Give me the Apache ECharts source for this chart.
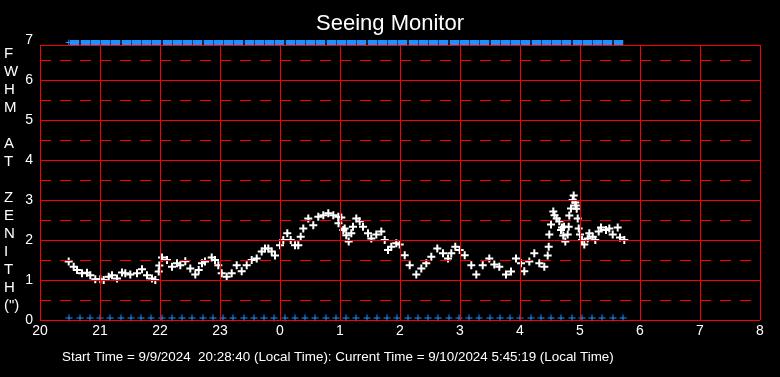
<!DOCTYPE html>
<html>
<head>
<meta charset="utf-8">
<script src="https://cdn.jsdelivr.net/npm/echarts@6/dist/echarts.min.js"></script>
<style>
html,body{margin:0;padding:0;background:#000;}
#c{width:780px;height:377px;}
</style>
</head>
<body>
<div id="c"></div>
<script>
// Minutes after 20:00 local time, and FWHM at zenith (arcsec)
const minutes = [28.7,33.7,37,42,47,50.3,55.3,60.3,63.7,68.7,72,77,82,85.3,90.3,97,102,107,112,115.3,118.7,119.3,122,127,132,137,140.3,145.3,150.3,155.3,158.7,162,165,171.7,175,178.3,181.7,186.7,191.7,196.7,201.7,206.7,211.7,216.7,221.7,225,228.3,231.7,235,240,243.3,247.3,250.7,255,258.3,260.7,263.3,268.3,273.3,278.3,283.3,288.3,293.3,298.3,298.5,301.3,303.3,304.7,306.3,308.7,311.3,313,316.3,319.7,323,328,331.3,336.3,341.3,344.7,348,351.3,356.3,359.7,364.7,369.7,376.3,381.3,386.3,391.3,397.3,403,408,411.3,415.3,419.7,424.7,431.3,436.3,442.7,449.3,454.3,459.3,466,471,476,481,484.3,489.3,494.3,499.3,504.3,507.7,508.7,509.3,511,513.3,514.5,516.7,519.3,521,522,523.3,524,525.3,527.7,528.7,529.3,531,532.7,533.7,535.3,535.8,536.7,537.7,538.7,540,542,544.3,547.7,549.3,552.7,555.3,558.7,561,566,569.3,572.7,577.7,580,584.3];
const fwhm = [1.46,1.33,1.25,1.17,1.18,1.12,1.02,1.02,1.00,1.08,1.12,1.04,1.19,1.17,1.14,1.17,1.27,1.12,1.04,1.00,1.21,1.36,1.56,1.50,1.33,1.42,1.37,1.47,1.29,1.14,1.25,1.42,1.46,1.56,1.50,1.37,1.17,1.08,1.17,1.37,1.22,1.37,1.50,1.54,1.71,1.79,1.79,1.71,1.61,1.87,2.00,2.17,2.00,1.87,1.87,2.08,2.29,2.54,2.37,2.58,2.62,2.67,2.62,2.58,2.42,2.56,2.25,2.29,2.12,1.96,2.17,2.33,2.54,2.47,2.33,2.17,2.04,2.14,2.21,2.00,1.75,1.83,1.92,1.89,1.62,1.37,1.14,1.29,1.42,1.58,1.79,1.67,1.54,1.67,1.83,1.75,1.62,1.37,1.14,1.37,1.54,1.39,1.33,1.14,1.21,1.54,1.42,1.22,1.46,1.67,1.42,1.33,1.61,1.83,2.14,2.39,2.71,2.62,2.54,2.47,2.25,2.31,2.11,2.33,1.96,2.14,2.33,2.61,2.79,3.00,3.11,2.94,2.86,2.78,2.54,2.29,2.14,2.00,1.89,2.04,2.17,2.08,2.00,2.21,2.31,2.25,2.29,2.14,2.31,2.06,2.00];
// 10-minute status marks (minutes after 20:00)
const statusMinutes = [29,40,50,60,70,81,91,101,111,122,132,142,152,163,173,183,193,204,214,224,234,245,255,265,275,286,296,306,316,327,337,347,357,368,378,388,398,409,419,429,439,450,460,470,480,491,501,511,521,532,542,552,562,573,583];
const xTicks = [20,21,22,23,24,25,26,27,28,29,30,31,32];
const xTickLabels = ['20','21','22','23','0','1','2','3','4','5','6','7','8'];
const ySolid = [0,1,2,3,4,5,6];
const yDashed = [0.5,1.5,2.5,3.5,4.5,5.5,6.5];
const yTop = 6.875;
const startTime = '9/9/2024  20:28:40';
const currentTime = '9/10/2024 5:45:19';

const toHour = m => 20 + m / 60;
const RED = '#ff0000', BLUE = '#1e90ff';
const plusThin = 'path://M3,0h1v3h3v1h-3v3h-1v-3h-3v-1h3z';
const plusBold = 'path://M3,0h2v3h3v2h-3v3h-2v-3h-3v-2h3z';

const gridLines = [];
xTicks.forEach(h => gridLines.push([{coord:[h,0]},{coord:[h,yTop]}]));
ySolid.forEach(v => gridLines.push({yAxis:v}));
gridLines.push({yAxis:yTop});
yDashed.forEach(v => gridLines.push({yAxis:v, lineStyle:{type:[11,9], color:RED, width:1}}));

const FONT = 'Liberation Sans, Arial';
const chart = echarts.init(document.getElementById('c'));
chart.setOption({
  backgroundColor:'#000',
  animation:false,
  title:[
    {text:'Seeing Monitor', left:'center', top:8,
     textStyle:{color:'#fff', fontSize:22, fontWeight:'normal', fontFamily:FONT}},
    {text:'Start Time = ' + startTime + ' (Local Time): Current Time = ' + currentTime + ' (Local Time)',
     left:57, top:346,
     textStyle:{color:'#fff', fontSize:13.4, fontWeight:'normal', fontFamily:FONT}}
  ],
  grid:{left:40, right:20, top:40, bottom:57},
  xAxis:{type:'value', min:20, max:32, interval:1,
    axisLine:{show:false}, axisTick:{show:false}, splitLine:{show:false},
    axisLabel:{color:'#fff', fontSize:14, margin:4, fontFamily:FONT,
      formatter:v => xTickLabels[xTicks.indexOf(v)]}},
  yAxis:{type:'value', min:0, max:7, interval:1,
    axisLine:{show:false}, axisTick:{show:false}, splitLine:{show:false},
    axisLabel:{color:'#fff', fontSize:14, margin:7, fontFamily:FONT},
    name:'F\nW\nH\nM\n\nA\nT\n\nZ\nE\nN\nI\nT\nH\n(")', nameLocation:'middle', nameRotate:0, nameGap:30,
    nameTextStyle:{color:'#fff', fontSize:15, lineHeight:18, align:'left', fontFamily:FONT}},
  series:[
    {type:'line', data:[], silent:true, z:1,
     markLine:{silent:true, symbol:'none', label:{show:false}, animation:false,
       lineStyle:{color:RED, width:1, type:'solid'}, emphasis:{disabled:true}, data:gridLines}},
    {type:'scatter', silent:true, z:3, symbol:'rect', symbolSize:[9.5,5], symbolOffset:[5.5,2.5],
     itemStyle:{color:BLUE, opacity:1}, data:statusMinutes.slice(0,-1).map(m => [toHour(m),7])},
    {type:'scatter', silent:true, z:3, symbol:plusThin, symbolSize:6, symbolOffset:[0,2.5],
     itemStyle:{color:BLUE, opacity:1}, data:[[toHour(minutes[0]),7]]},
    {type:'scatter', silent:true, z:3, symbol:plusThin, symbolSize:7, symbolOffset:[0,-2],
     itemStyle:{color:BLUE, opacity:1}, data:statusMinutes.map(m => [toHour(m),0])},
    {type:'scatter', silent:true, z:4, symbol:plusBold, symbolSize:8,
     itemStyle:{color:'#fff', opacity:1}, data:minutes.map((m,i) => [toHour(m), fwhm[i]])}
  ]
});
</script>
</body>
</html>
